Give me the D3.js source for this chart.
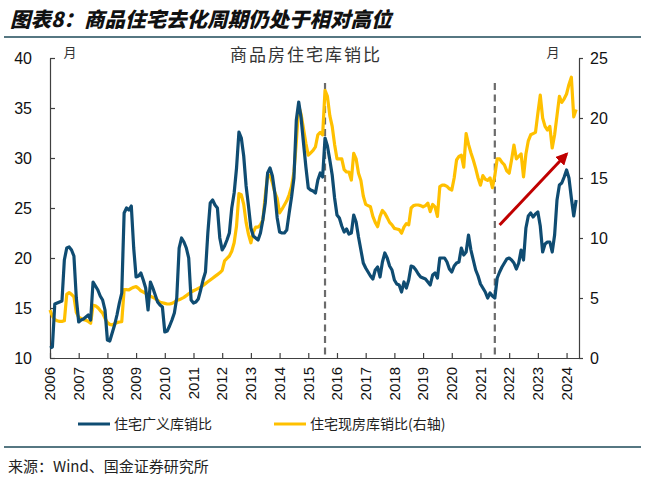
<!DOCTYPE html>
<html><head><meta charset="utf-8">
<script src="https://cdn.jsdelivr.net/npm/d3@7/dist/d3.min.js"></script>
<style>body{margin:0;background:#fff;} svg{display:block;}</style>
</head><body><svg id="c" width="645" height="487"></svg>
<script>
// ---------- data ----------
const startMonth = "2006-01";
const yearLabels = ["2006","2007","2008","2009","2010","2011","2012","2013","2014","2015","2016","2017","2018","2019","2020","2021","2022","2023","2024"];
const leftTicks = [10,15,20,25,30,35,40];
const rightTicks = [0,5,10,15,20,25];
// 住宅广义库销比 (left axis), monthly from 2006-01
const broadRatio = [
  11.0,11.1,15.4,15.5,15.6,15.7,19.8,21.0,21.1,20.8,20.2,16.0,
  13.6,13.8,13.9,14.1,14.3,13.8,17.6,17.2,16.8,16.2,15.8,14.8,
  11.8,11.7,12.5,13.3,14.3,15.5,16.5,24.5,25.0,24.8,25.2,21.0,
  18.1,18.2,18.5,17.8,17.0,14.8,17.6,17.0,16.3,15.6,15.3,15.1,
  12.6,12.7,13.2,13.8,14.5,16.0,21.0,22.0,21.6,21.0,20.0,15.8,
  15.5,15.6,15.9,16.8,17.8,18.6,22.5,25.5,25.8,25.3,25.0,22.0,
  20.8,21.2,21.8,22.5,25.0,26.5,29.0,32.6,32.0,30.2,27.2,25.2,
  23.0,22.2,22.0,21.8,22.5,23.8,25.5,28.5,29.0,28.2,26.5,24.0,
  22.6,22.5,22.5,22.8,24.5,26.1,28.0,33.8,35.6,34.0,31.5,29.1,
  27.0,26.8,26.7,26.5,27.8,28.5,28.1,32.0,31.2,29.8,28.3,26.0,
  24.3,24.0,23.2,22.6,22.9,22.4,22.5,24.3,23.6,22.1,20.8,19.5,
  19.0,18.6,18.2,17.9,18.8,19.1,18.1,19.6,20.5,20.0,19.2,18.8,
  17.8,17.4,17.3,16.6,17.6,17.0,17.8,19.2,19.1,18.8,18.4,18.1,
  18.0,17.9,17.6,17.3,18.3,18.5,18.0,20.0,20.0,20.0,19.6,18.9,
  18.6,19.2,19.5,19.6,21.0,20.3,20.6,22.3,20.8,19.8,18.8,18.2,
  17.4,17.0,16.6,16.0,16.5,16.2,16.0,18.0,18.6,19.1,19.5,19.9,
  20.0,19.8,19.5,18.9,19.5,20.8,19.8,23.0,24.2,24.5,24.1,24.4,
  24.6,23.2,20.6,21.4,21.6,21.6,20.6,22.3,25.8,27.3,27.5,28.1,
  28.8,28.0,26.0,24.2,25.8
];
// 住宅现房库销比 (right axis), monthly from 2006-01
const completedRatio = [
  4.0,3.5,3.2,3.1,3.05,3.05,3.1,5.3,5.45,5.3,5.1,3.8,
  3.4,3.3,3.2,3.15,3.05,2.9,4.4,4.35,4.2,3.95,3.75,3.3,
  2.95,2.8,2.75,2.85,2.95,3.0,3.03,5.7,5.7,5.67,5.8,5.9,
  5.95,5.8,5.6,5.5,5.4,5.25,5.15,5.05,4.95,4.8,4.65,4.6,
  4.55,4.5,4.5,4.55,4.65,4.8,4.85,4.95,5.05,5.2,5.35,5.5,
  5.6,5.7,5.8,5.9,6.05,6.2,6.35,6.5,6.65,6.8,6.95,7.1,
  7.3,8.1,8.3,8.5,8.9,9.6,11.0,13.7,13.6,12.8,11.3,10.3,
  9.6,10.5,10.9,10.9,11.1,11.5,13.5,15.25,15.2,14.6,13.8,13.3,
  12.1,12.4,12.75,13.1,13.6,14.3,15.5,18.0,21.0,20.3,19.1,17.9,
  16.9,17.1,17.3,17.6,18.6,18.8,18.6,22.3,21.8,20.2,19.3,17.8,
  16.6,16.6,16.6,15.7,15.5,15.5,14.83,17.06,16.6,15.4,14.8,13.5,
  12.8,12.7,12.6,11.8,11.3,10.94,11.8,12.3,12.06,11.7,11.3,11.1,
  10.8,10.75,10.7,10.4,10.9,11.2,11.1,12.5,12.7,12.75,12.75,12.7,
  12.6,12.7,12.9,12.2,12.8,12.6,11.8,14.28,14.4,14.4,14.3,14.1,
  14.0,15.0,16.5,16.8,16.9,15.9,18.7,17.8,17.1,16.5,15.8,15.0,
  14.4,15.2,14.9,14.8,15.0,14.2,15.2,16.6,16.6,16.3,16.1,15.6,
  15.4,16.5,17.75,16.6,16.8,17.0,15.1,17.0,18.1,18.6,18.7,18.8,
  20.4,21.9,20.0,19.3,19.0,19.3,17.5,18.6,20.2,21.8,21.3,21.6,
  22.0,22.8,23.4,20.1,20.7
];
const markerMonths = ["2015-08","2021-07"];
const arrowFrom = {month:"2021-09", value:23.3};
const arrowTo = {month:"2024-01", value:30.4};
const seriesNames = ["住宅广义库销比","住宅现房库销比(右轴)"];

// ---------- drawing ----------
const blue = "#0f4c72", yellow = "#ffc000", red = "#c00000", axisCol = "#404040";
const svg = d3.select("#c");
const sy = +startMonth.slice(0,4), sm = +startMonth.slice(5,7);
const mIdx = s => (+s.slice(0,4)-sy)*12 + (+s.slice(5,7)-sm);

const x = d3.scaleLinear().domain([0, 221.2]).range([50, 579]);
const yL = d3.scaleLinear().domain([10, 40]).range([358, 58]);
const yR = d3.scaleLinear().domain([0, 25]).range([358, 58]);

// title
svg.append("text").attr("x", 10).attr("y", 27)
  .attr("font-family", "'Noto Sans CJK SC'").attr("font-weight", 900)
  .attr("font-style", "italic").attr("font-size", 20.5).attr("fill", "#111")
  .text("图表8：商品住宅去化周期仍处于相对高位");
svg.append("line").attr("x1", 4).attr("x2", 641).attr("y1", 37).attr("y2", 37)
  .attr("stroke", "#1e4a58").attr("stroke-width", 1.5);

// chart title
svg.append("text").attr("x", 306).attr("y", 61).attr("text-anchor", "middle")
  .attr("font-family", "'Noto Sans CJK SC'").attr("font-size", 17).attr("fill", "#333")
  .attr("letter-spacing", 2).text("商品房住宅库销比");
svg.append("text").attr("x", 70).attr("y", 57).attr("text-anchor", "middle")
  .attr("font-family", "'Noto Sans CJK SC'").attr("font-size", 13).attr("fill", "#333").text("月");
svg.append("text").attr("x", 553).attr("y", 57).attr("text-anchor", "middle")
  .attr("font-family", "'Noto Sans CJK SC'").attr("font-size", 13).attr("fill", "#333").text("月");

// axes
const gL = svg.append("g").attr("transform", "translate(50,0)")
  .call(d3.axisLeft(yL).tickValues(leftTicks).tickSizeInner(-5).tickSizeOuter(0).tickPadding(18));
const gR = svg.append("g").attr("transform", "translate(579,0)")
  .call(d3.axisRight(yR).tickValues(rightTicks).tickSizeInner(4).tickSizeOuter(0).tickPadding(7));
const yearIdx = yearLabels.map(y => mIdx(y + "-01"));
const gB = svg.append("g").attr("transform", "translate(0,358)")
  .call(d3.axisBottom(x).tickValues(yearIdx).tickSizeInner(-5).tickSizeOuter(0).tickFormat(""));
[gL, gR, gB].forEach(g => {
  g.select(".domain").attr("stroke", axisCol).attr("stroke-width", 1.2);
  g.selectAll(".tick line").attr("stroke", axisCol).attr("stroke-width", 1.2);
  g.selectAll("text").attr("font-family", "'Liberation Sans', Arial, sans-serif")
    .attr("font-size", 16).attr("fill", "#111");
});
// rotated year labels
svg.append("g").selectAll("text").data(yearLabels).join("text")
  .attr("transform", d => `translate(${x(mIdx(d + "-01"))},367) rotate(-90)`)
  .attr("text-anchor", "end").attr("dy", "0.35em")
  .attr("font-family", "'Liberation Sans', Arial, sans-serif").attr("font-size", 15).attr("fill", "#111")
  .text(d => d);

// vertical dashed markers
svg.append("g").selectAll("line").data(markerMonths).join("line")
  .attr("x1", d => x(mIdx(d))).attr("x2", d => x(mIdx(d)))
  .attr("y1", yL(37.5)).attr("y2", yL(10))
  .attr("stroke", "#6b6b6b").attr("stroke-width", 2.2).attr("stroke-dasharray", "7,4.5");

// lines
const lineL = d3.line().x((d, i) => x(i)).y(d => yL(d));
const lineR = d3.line().x((d, i) => x(i)).y(d => yR(d));
svg.append("path").datum(completedRatio).attr("d", lineR)
  .attr("fill", "none").attr("stroke", yellow).attr("stroke-width", 3.2).attr("stroke-linejoin", "round");
svg.append("path").datum(broadRatio).attr("d", lineL)
  .attr("fill", "none").attr("stroke", blue).attr("stroke-width", 3.2).attr("stroke-linejoin", "round");

// arrow
const defs = svg.append("defs");
defs.append("marker").attr("id", "ah").attr("viewBox", "0 0 10 10").attr("refX", 8).attr("refY", 5)
  .attr("markerWidth", 4.2).attr("markerHeight", 4.2).attr("orient", "auto")
  .append("path").attr("d", "M0,0 L10,5 L0,10 Z").attr("fill", red);
svg.append("line")
  .attr("x1", x(mIdx(arrowFrom.month))).attr("y1", yL(arrowFrom.value))
  .attr("x2", x(mIdx(arrowTo.month))).attr("y2", yL(arrowTo.value))
  .attr("stroke", red).attr("stroke-width", 3).attr("marker-end", "url(#ah)");

// legend
const leg = svg.append("g");
[[78, blue, seriesNames[0]], [274, yellow, seriesNames[1]]].forEach(([lx, c, t]) => {
  leg.append("line").attr("x1", lx).attr("x2", lx + 32).attr("y1", 424).attr("y2", 424)
    .attr("stroke", c).attr("stroke-width", 3);
  leg.append("text").attr("x", lx + 36).attr("y", 429)
    .attr("font-family", "'Noto Sans CJK SC'").attr("font-size", 14).attr("fill", "#222").text(t);
});

// bottom separator and source
svg.append("line").attr("x1", 4).attr("x2", 641).attr("y1", 447).attr("y2", 447)
  .attr("stroke", "#1e4a58").attr("stroke-width", 1.5);
svg.append("text").attr("x", 8).attr("y", 472)
  .attr("font-family", "'Noto Sans CJK SC'").attr("font-size", 15).attr("fill", "#222")
  .text("来源：Wind、国金证券研究所");
</script></body></html>
